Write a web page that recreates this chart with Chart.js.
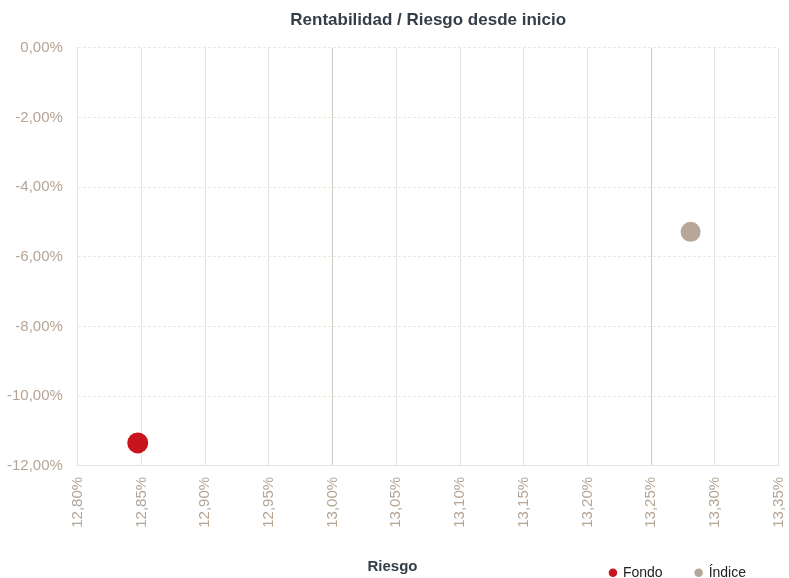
<!DOCTYPE html>
<html>
<head>
<meta charset="utf-8">
<script src="https://cdn.jsdelivr.net/npm/chart.js@4"></script>
<style>
  html, body { margin: 0; padding: 0; background: #fff; }
  #wrap { width: 789px; height: 578px; }
</style>
</head>
<body>
<div id="wrap"><canvas id="riskChart"></canvas></div>
<script>
// Datos (en %)
const seriesNames = ['Fondo', 'Índice'];
const riesgo = [12.847, 13.281];
const rentabilidad = [-11.34, -5.28];
const seriesColors = ['#c8141c', '#b6a798'];
const pointSizes = [10.5, 10];

const xTicks = [12.80, 12.85, 12.90, 12.95, 13.00, 13.05, 13.10, 13.15, 13.20, 13.25, 13.30, 13.35];
const yTicks = [-12, -10, -8, -6, -4, -2, 0];

const fmt = v => v.toFixed(2).replace('.', ',') + '%';
const tickColor = '#b5a595';
const fontFamily = '"Liberation Sans", Arial, sans-serif';

document.addEventListener('DOMContentLoaded', function () {
    const ctx = document.getElementById('riskChart').getContext('2d');

    const datasets = seriesNames.map((name, i) => ({
        label: name,
        data: [{ x: riesgo[i], y: rentabilidad[i] }],
        backgroundColor: seriesColors[i],
        borderColor: seriesColors[i],
        borderWidth: 0,
        pointRadius: pointSizes[i],
        pointHoverRadius: pointSizes[i],
        pointStyle: 'circle'
    }));

    new Chart(ctx, {
        type: 'scatter',
        data: { datasets: datasets },
        options: {
            responsive: true,
            maintainAspectRatio: false,
            animation: false,
            layout: { padding: { left: 6, right: 10, top: 0, bottom: -13 } },
            scales: {
                x: {
                    type: 'linear',
                    min: xTicks[0],
                    max: xTicks[xTicks.length - 1],
                    afterBuildTicks: axis => { axis.ticks = xTicks.map(v => ({ value: v })); },
                    afterFit: axis => { axis.paddingLeft = 0; axis.paddingRight = 0; axis.height -= 6; },
                    ticks: {
                        color: tickColor,
                        font: { family: fontFamily, size: 15 },
                        minRotation: 90,
                        maxRotation: 90,
                        padding: 11,
                        callback: v => fmt(v)
                    },
                    grid: {
                        drawTicks: false,
                        color: c => {
                            const v = c.tick ? Math.round(c.tick.value * 100) : 0;
                            return (v === 1300 || v === 1325) ? '#d2c9c0' : '#e8e3de';
                        }
                    },
                    border: { color: '#e8e3de' }
                },
                y: {
                    type: 'linear',
                    min: yTicks[0],
                    max: yTicks[yTicks.length - 1],
                    afterBuildTicks: axis => { axis.ticks = yTicks.map(v => ({ value: v })); },
                    // el padding de los ticks se cuenta dos veces en el ancho del eje
                    afterFit: axis => { axis.width -= 14; },
                    ticks: {
                        color: tickColor,
                        font: { family: fontFamily, size: 15 },
                        padding: 15,
                        callback: v => fmt(v)
                    },
                    grid: {
                        drawTicks: false,
                        color: '#ece8e3'
                    },
                    border: { color: '#e8e3de', dash: [3, 2] }
                }
            },
            plugins: {
                title: {
                    display: true,
                    fullSize: false,
                    text: 'Rentabilidad / Riesgo desde inicio',
                    color: '#333e48',
                    font: { family: fontFamily, size: 17, weight: 'bold' },
                    padding: { top: 10, bottom: 17.5 }
                },
                // título del eje X, centrado en el lienzo y en la misma línea que la leyenda
                subtitle: {
                    display: true,
                    position: 'bottom',
                    weight: 2000,
                    text: 'Riesgo',
                    color: '#333e48',
                    font: { family: fontFamily, size: 15, weight: 'bold' },
                    padding: { top: -32.4, bottom: 15.6 }
                },
                legend: {
                    position: 'bottom',
                    align: 'end',
                    labels: {
                        usePointStyle: true,
                        pointStyle: 'circle',
                        boxWidth: 6,
                        boxHeight: 6,
                        padding: 33,
                        color: '#222',
                        font: { family: fontFamily, size: 14 }
                    }
                },
                tooltip: {
                    callbacks: {
                        label: function (context) {
                            return context.dataset.label + ': ' + fmt(context.parsed.x) + ' / ' + fmt(context.parsed.y);
                        }
                    }
                }
            }
        }
    });
});
</script>
</body>
</html>
